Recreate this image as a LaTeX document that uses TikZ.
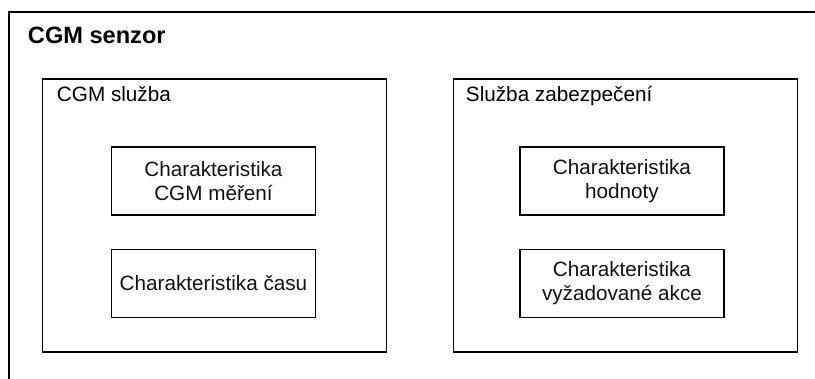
\documentclass[tikz,border=0pt]{standalone}
\usepackage{fontspec}
\setmainfont{Liberation Sans}
\usepackage{xcolor}
\definecolor{boxline}{HTML}{000000}
\definecolor{boxtext}{HTML}{111111}

\begin{document}
\begin{tikzpicture}[x=1pt,y=-1pt,line width=1.3pt,
    service/.style={draw=boxline,minimum width=344pt,minimum height=273pt,inner sep=0pt},
    charbox/.style={draw=boxline,minimum width=204pt,minimum height=68pt,align=center,
      font=\fontsize{20.7}{24}\selectfont,text=boxtext,inner sep=0pt}]
      \clip (0,0) rectangle (815,379);
      % sensor frame runs past the right and bottom edge
      \draw[draw=boxline] (9,12) rectangle (840,420);
      \node[anchor=base west,font=\fontsize{23.6}{27}\selectfont\bfseries] (senzor) at (24,44) {CGM senzor};
      % the two services
      \node[service] (cgm) at (214.5,215.5) {};
      \node[service] (sec) at (625.5,215.5) {};
      \node[anchor=base west,font=\fontsize{20.7}{24}\selectfont] (cgmlbl) at (53,102) {CGM služba};
      \node[anchor=base west,font=\fontsize{20.7}{24}\selectfont] (seclbl) at (462,102) {Služba zabezpečení};
      % characteristics
      \node[charbox] (mereni) at (213.5,181) {Charakteristika\\CGM měření};
      \node[charbox] (cas) at (213.5,283.5) {Charakteristika času};
      \node[charbox] (hodnoty) at (622,181) {Charakteristika\\hodnoty};
      \node[charbox] (akce) at (622,283.5) {Charakteristika\\vyžadované akce};
    \end{tikzpicture}
\end{document}
